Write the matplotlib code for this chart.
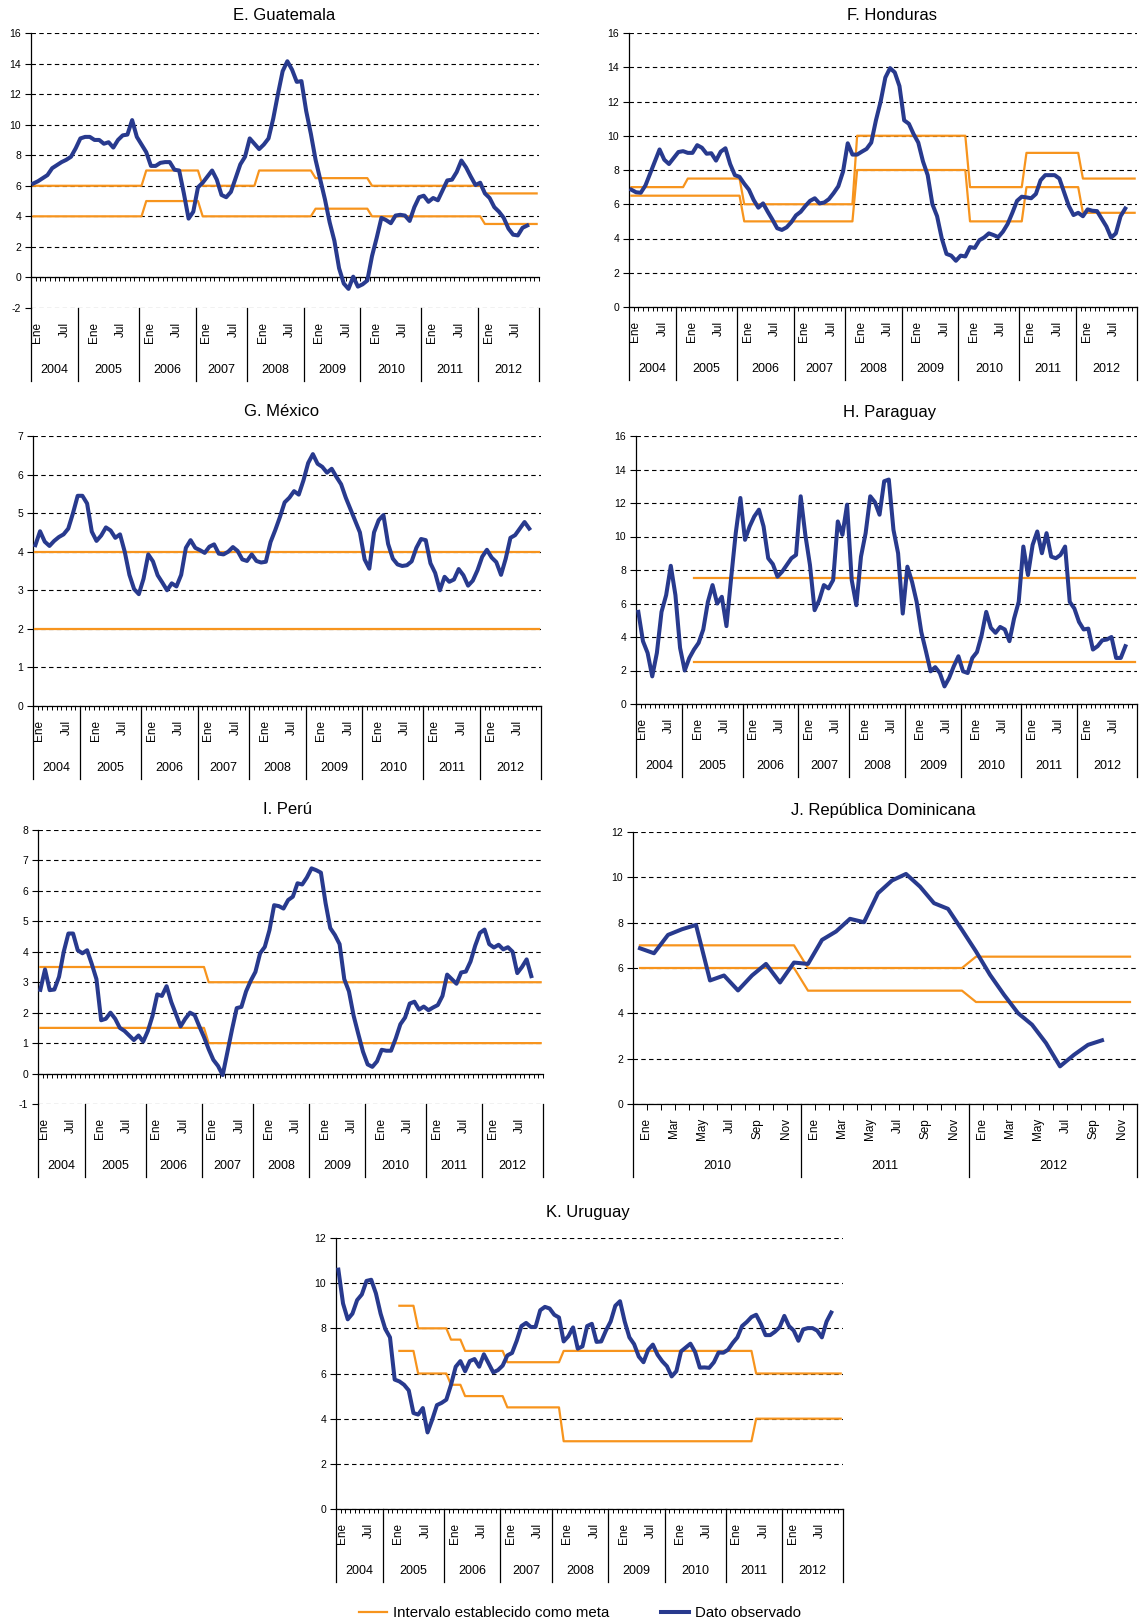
import numpy as np
import matplotlib.pyplot as plt

plt.rcParams['font.family'] = ['Liberation Sans', 'DejaVu Sans']
plt.rcParams['axes.unicode_minus'] = False

W, H = 1139, 1623
BLUE = '#283A8E'
ORANGE = '#F7941D'

# monthly category axis (Jan 2004 - Dec 2012)
years = ['2004', '2005', '2006', '2007', '2008', '2009', '2010', '2011', '2012']
year_seps = [0, 10, 23, 35, 46, 58, 70, 83, 95, 108]
month_names = ['Ene', 'Jul']

# República Dominicana axis (Jan 2010 - Dec 2012)
rd_years = ['2010', '2011', '2012']
rd_months = ['Ene', 'Mar', 'May', 'Jul', 'Sep', 'Nov']

# E. Guatemala
gt_obs = [6.15, 6.3, 6.5, 6.7, 7.15, 7.35, 7.55, 7.7, 7.9, 8.45, 9.1, 9.2,
          9.2, 9.0, 9.0, 8.75, 8.85, 8.5, 9.0, 9.3, 9.35, 10.3, 9.2, 8.7,
          8.2, 7.3, 7.3, 7.5, 7.55, 7.55, 7.05, 7.0, 5.5, 3.85, 4.3, 5.9,
          6.2, 6.6, 7.0, 6.4, 5.4, 5.25, 5.6, 6.5, 7.4, 7.9, 9.1, 8.75,
          8.4, 8.7, 9.1, 10.4, 12.0, 13.5, 14.15, 13.6, 12.8, 12.85, 10.9, 9.4,
          7.7, 6.4, 5.1, 3.6, 2.4, 0.6, -0.4, -0.75, 0.05, -0.6, -0.45, -0.2,
          1.4, 2.6, 3.9, 3.75, 3.55, 4.05, 4.1, 4.05, 3.7, 4.6, 5.25, 5.35,
          4.95, 5.2, 5.05, 5.7, 6.35, 6.4, 6.9, 7.65, 7.2, 6.6, 6.05, 6.2,
          5.5, 5.2, 4.6, 4.3, 3.9, 3.2, 2.8, 2.75, 3.25, 3.4]
gt_up_vals, gt_up_len = [6, 7, 6, 7, 6.5, 6, 5.5], [24, 12, 12, 12, 12, 24, 12]
gt_lo_vals, gt_lo_len = [4, 5, 4, 4.5, 4, 3.5], [24, 12, 24, 12, 24, 12]

# F. Honduras
hn_obs = [6.85, 6.7, 6.67, 7.1, 7.8, 8.5, 9.2, 8.6, 8.35, 8.7, 9.05, 9.1,
          9.0, 9.0, 9.45, 9.3, 8.95, 8.98, 8.55, 9.07, 9.27, 8.35, 7.7, 7.6,
          7.2, 6.85, 6.25, 5.8, 6.05, 5.56, 5.1, 4.6, 4.5, 4.65, 4.95, 5.35,
          5.56, 5.9, 6.2, 6.35, 6.05, 6.1, 6.3, 6.65, 7.05, 7.9, 9.56, 8.9,
          8.9, 9.07, 9.23, 9.6, 10.9, 12.0, 13.4, 13.95, 13.7, 12.9, 10.9, 10.7,
          10.1, 9.6, 8.5, 7.7, 6.0, 5.3, 4.0, 3.1, 3.0, 2.7, 3.0, 2.95,
          3.5, 3.45, 3.9, 4.06, 4.3, 4.2, 4.08, 4.4, 4.85, 5.5, 6.2, 6.44,
          6.4, 6.35, 6.6, 7.4, 7.7, 7.7, 7.7, 7.5, 6.7, 5.9, 5.37, 5.5,
          5.3, 5.7, 5.62, 5.6, 5.15, 4.7, 4.05, 4.3, 5.3, 5.75]
hn_up_vals, hn_up_len = [7, 7.5, 6, 10, 7, 9, 7.5], [12, 12, 24, 24, 12, 12, 12]
hn_lo_vals, hn_lo_len = [6.5, 5, 8, 5, 7, 5.5], [24, 24, 24, 12, 12, 12]

# G. México
mx_obs = [4.17, 4.53, 4.26, 4.15, 4.28, 4.38, 4.45, 4.6, 5.0, 5.45, 5.45, 5.25,
          4.52, 4.28, 4.42, 4.63, 4.55, 4.36, 4.45, 4.0, 3.4, 3.03, 2.9, 3.3,
          3.93, 3.75, 3.39, 3.2, 3.0, 3.18, 3.1, 3.4, 4.1, 4.3, 4.1, 4.04,
          3.97, 4.13, 4.19, 3.95, 3.93, 4.0, 4.12, 4.02, 3.8, 3.76, 3.93, 3.76,
          3.72, 3.74, 4.25, 4.56, 4.9, 5.28, 5.4, 5.57, 5.48, 5.85, 6.3, 6.53,
          6.28, 6.2, 6.05, 6.15, 5.94, 5.75, 5.4, 5.1, 4.8, 4.5, 3.8, 3.56,
          4.5, 4.82, 4.95, 4.2, 3.82, 3.67, 3.63, 3.65, 3.75, 4.1, 4.33, 4.3,
          3.7, 3.45, 3.0, 3.35, 3.22, 3.28, 3.55, 3.39, 3.12, 3.25, 3.52, 3.87,
          4.05, 3.85, 3.73, 3.4, 3.82, 4.36, 4.43, 4.6, 4.77, 4.6]
mx_up_vals, mx_up_len = [4], [108]
mx_lo_vals, mx_lo_len = [2], [108]

# H. Paraguay
py_obs = [5.5, 3.75, 3.05, 1.65, 3.05, 5.5, 6.5, 8.25, 6.5, 3.35, 2.0, 2.75,
          3.25, 3.65, 4.45, 6.1, 7.1, 6.0, 6.4, 4.65, 7.5, 10.2, 12.3, 9.8,
          10.6, 11.2, 11.6, 10.6, 8.7, 8.35, 7.6, 7.9, 8.3, 8.7, 8.9, 12.4,
          10.1, 8.3, 5.6, 6.2, 7.1, 6.9, 7.4, 10.9, 10.1, 11.9, 7.4, 5.9,
          8.8, 10.2, 12.4, 12.05, 11.3, 13.3, 13.4, 10.4, 9.0, 5.4, 8.2, 7.3,
          6.1, 4.3, 3.15, 1.95, 2.2, 1.85, 1.05, 1.55, 2.25, 2.85, 1.95, 1.85,
          2.75, 3.1, 4.1, 5.5, 4.55, 4.25, 4.6, 4.45, 3.75, 5.1, 6.1, 9.4,
          7.7, 9.5, 10.3, 9.0, 10.2, 8.8, 8.7, 8.9, 9.4, 6.1, 5.7, 4.9,
          4.45, 4.5, 3.25, 3.45, 3.8, 3.85, 4.0, 2.75, 2.75, 3.45]
py_up_vals, py_up_len = [np.nan, 7.5], [12, 96]
py_lo_vals, py_lo_len = [np.nan, 2.5], [12, 96]

# I. Perú
pe_obs = [2.75, 3.42, 2.74, 2.76, 3.18, 4.0, 4.6, 4.6, 4.05, 3.95, 4.05, 3.6,
          3.1, 1.75, 1.8, 2.0, 1.8, 1.5, 1.4, 1.25, 1.1, 1.25, 1.05, 1.4,
          1.9, 2.6, 2.55, 2.87, 2.35, 1.95, 1.55, 1.8, 2.0, 1.92, 1.55, 1.2,
          0.8, 0.45, 0.25, -0.05, 0.7, 1.45, 2.15, 2.19, 2.7, 3.05, 3.34, 3.95,
          4.16, 4.71, 5.53, 5.5, 5.42, 5.7, 5.81, 6.25, 6.21, 6.44, 6.74, 6.68,
          6.6, 5.6, 4.78, 4.55, 4.25, 3.1, 2.7, 1.9, 1.3, 0.72, 0.3, 0.22,
          0.4, 0.78, 0.75, 0.75, 1.15, 1.62, 1.84, 2.3, 2.36, 2.1, 2.2, 2.08,
          2.17, 2.25, 2.55, 3.25, 3.1, 2.95, 3.32, 3.35, 3.68, 4.2, 4.62, 4.73,
          4.25, 4.14, 4.23, 4.08, 4.15, 4.0, 3.3, 3.5, 3.75, 3.2]
pe_up_vals, pe_up_len = [3.5, 3.0], [36, 72]
pe_lo_vals, pe_lo_len = [1.5, 1.0], [36, 72]

# J. República Dominicana
rd_obs = [6.87, 6.65, 7.46, 7.71, 7.9, 5.45, 5.67, 5.01, 5.67, 6.18, 5.36, 6.24,
          6.18, 7.24, 7.61, 8.17, 8.02, 9.3, 9.86, 10.15, 9.59, 8.86, 8.61, 7.68,
          6.73, 5.7, 4.82, 4.01, 3.5, 2.69, 1.66, 2.17, 2.61, 2.81]
rd_up_vals, rd_up_len = [7, 6, 6.5], [12, 12, 12]
rd_lo_vals, rd_lo_len = [6, 5, 4.5], [12, 12, 12]

# K. Uruguay
uy_obs = [10.6, 9.1, 8.4, 8.65, 9.25, 9.5, 10.1, 10.15, 9.55, 8.65, 7.97, 7.6,
          5.73, 5.65, 5.5, 5.25, 4.25, 4.18, 4.47, 3.39, 3.96, 4.6, 4.7, 4.84,
          5.5, 6.3, 6.55, 6.1, 6.55, 6.64, 6.3, 6.85, 6.45, 6.05, 6.15, 6.35,
          6.8, 6.91, 7.45, 8.1, 8.24, 8.06, 8.06, 8.8, 8.95, 8.88, 8.6, 8.48,
          7.42, 7.65, 8.04, 7.1, 7.2, 8.1, 8.2, 7.4, 7.42, 7.9, 8.3, 9.0,
          9.2, 8.3, 7.6, 7.3, 6.75, 6.5, 7.05, 7.28, 6.83, 6.54, 6.32, 5.87,
          6.1, 6.98, 7.15, 7.32, 6.95, 6.26, 6.27, 6.25, 6.5, 6.93, 6.92, 7.05,
          7.35, 7.6, 8.1, 8.28, 8.5, 8.6, 8.2, 7.7, 7.7, 7.85, 8.05, 8.55,
          8.1, 7.9, 7.45, 7.95, 8.01, 8.01, 7.9, 7.6, 8.3, 8.7]
uy_up_vals, uy_up_len = [np.nan, 9, 8, 7.5, 7, 6.5, 7, 6], [13, 4, 7, 3, 9, 12, 41, 19]
uy_lo_vals, uy_lo_len = [np.nan, 7, 6, 5.5, 5, 4.5, 3, 4], [13, 4, 7, 3, 9, 12, 41, 19]


fig = plt.figure(figsize=(W / 100, H / 100), dpi=100)


def add_panel(left, right, top, bottom, ylim, ystep):
    ax = fig.add_axes([left / W, 1 - bottom / H, (right - left) / W, (bottom - top) / H])
    ax.set_ylim(*ylim)
    ax.set_yticks(np.arange(ylim[0], ylim[1] + 0.01, ystep))
    ax.yaxis.grid(True, linestyle=(0, (4, 3)), color='black', linewidth=0.8)
    ax.set_axisbelow(True)
    ax.spines['top'].set_visible(False)
    ax.spines['right'].set_visible(False)
    ax.spines['bottom'].set_position(('data', 0))
    ax.spines['left'].set_linewidth(0.9)
    ax.spines['bottom'].set_linewidth(0.9)
    ax.tick_params(axis='y', direction='out', length=4, width=0.8, labelsize=7.5, pad=3)
    ax.tick_params(axis='x', direction='out', length=3, width=0.7, labelbottom=False)
    return ax, bottom - top


def category_labels(ax, h_px, seps, names, label_pos, label_txt):
    for s in seps:
        ax.plot([s, s], [0, -73 / h_px], transform=ax.get_xaxis_transform(),
                color='black', linewidth=0.9, clip_on=False)
    for p, t in zip(label_pos, label_txt):
        ax.annotate(t, xy=(p, 0), xycoords=('data', 'axes fraction'), xytext=(0, -14),
                    textcoords='offset pixels', rotation=90, ha='center', va='top', fontsize=8.5)
    for k, name in enumerate(names):
        ax.annotate(name, xy=((seps[k] + seps[k + 1]) / 2, 0), xycoords=('data', 'axes fraction'),
                    xytext=(0, -62), textcoords='offset pixels', ha='center', va='center', fontsize=9)


def monthly_panel(rect, ylim, ystep, obs, up, lo, title, title_xy):
    ax, h_px = add_panel(*rect, ylim, ystep)
    ax.set_xlim(0, 108)
    ax.set_xticks(np.arange(0, 109))
    x_band = np.arange(108) + 0.5
    band_up = np.repeat(up[0], up[1])
    band_lo = np.repeat(lo[0], lo[1])
    ax.plot(x_band, band_up, color=ORANGE, linewidth=1.6, zorder=3)
    ax.plot(x_band, band_lo, color=ORANGE, linewidth=1.6, zorder=3)
    ax.plot(np.arange(len(obs)) + 0.5, obs, color=BLUE, linewidth=2.9,
            solid_joinstyle='round', zorder=4)
    pos, txt = [], []
    for k in range(len(years)):
        pos += [12 * k + 1.3, 12 * k + 7.1]
        txt += month_names
    category_labels(ax, h_px, year_seps, years, pos, txt)
    fig.text(title_xy[0] / W, 1 - title_xy[1] / H, title, ha='center', va='center', fontsize=12)
    return ax


monthly_panel((31, 539, 33, 308), (-2, 16), 2, gt_obs, (gt_up_vals, gt_up_len),
              (gt_lo_vals, gt_lo_len), 'E. Guatemala', (284, 16))
monthly_panel((629, 1137, 33, 307), (0, 16), 2, hn_obs, (hn_up_vals, hn_up_len),
              (hn_lo_vals, hn_lo_len), 'F. Honduras', (892, 15))
monthly_panel((33, 541, 436, 706), (0, 7), 1, mx_obs, (mx_up_vals, mx_up_len),
              (mx_lo_vals, mx_lo_len), 'G. México', (282, 412))
monthly_panel((636, 1137, 436, 704), (0, 16), 2, py_obs, (py_up_vals, py_up_len),
              (py_lo_vals, py_lo_len), 'H. Paraguay', (890, 413))
monthly_panel((38, 543, 830, 1104), (-1, 8), 1, pe_obs, (pe_up_vals, pe_up_len),
              (pe_lo_vals, pe_lo_len), 'I. Perú', (287, 810))
ax_uy = monthly_panel((336, 843, 1238, 1509), (0, 12), 2, uy_obs, (uy_up_vals, uy_up_len),
                      (uy_lo_vals, uy_lo_len), 'K. Uruguay', (588, 1213))

# J. República Dominicana (2010-2012)
ax, h_px = add_panel(633, 1137, 832, 1104, (0, 12), 2)
ax.set_xlim(0, 36)
ax.set_xticks(np.arange(0, 37))
ax.tick_params(axis='x', length=4)
x_band = np.arange(36) + 0.5
ax.plot(x_band, np.repeat(rd_up_vals, rd_up_len), color=ORANGE, linewidth=1.6, zorder=3)
ax.plot(x_band, np.repeat(rd_lo_vals, rd_lo_len), color=ORANGE, linewidth=1.6, zorder=3)
ax.plot(np.arange(len(rd_obs)) + 0.5, rd_obs, color=BLUE, linewidth=2.9,
        solid_joinstyle='round', zorder=4)
category_labels(ax, h_px, [0, 12, 24, 36], rd_years,
                [m + 0.9 for m in range(0, 36, 2)], rd_months * 3)
fig.text(883 / W, 1 - 810 / H, 'J. República Dominicana', ha='center', va='center', fontsize=12)

# legend
lines = ax_uy.get_lines()
fig.legend([lines[0], lines[2]], ['Intervalo establecido como meta', 'Dato observado'],
           loc='center', bbox_to_anchor=(580 / W, 1 - 1613 / H), ncol=2, frameon=False,
           fontsize=10.8, handlelength=1.87, handletextpad=0.4, columnspacing=3.5)

fig.savefig('out.png', dpi=100)
